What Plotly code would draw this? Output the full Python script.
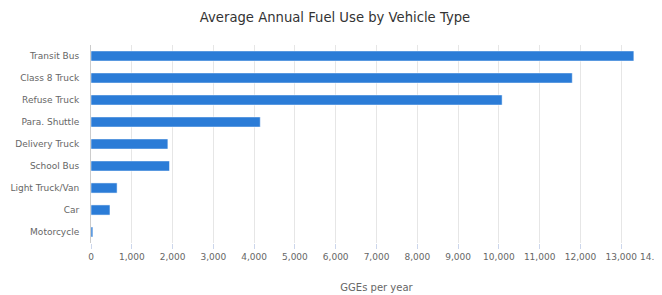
import plotly.graph_objects as go

categories = ["Transit Bus", "Class 8 Truck", "Refuse Truck", "Para. Shuttle",
              "Delivery Truck", "School Bus", "Light Truck/Van", "Car", "Motorcycle"]
values = [13310, 11800, 10080, 4150, 1885, 1925, 640, 465, 45]
tick_vals = list(range(0, 13001, 1000))
tick_text = [f"{v:,}" for v in tick_vals]
last_tick_val = 14000
last_tick_text = "14.."

fig = go.Figure(go.Bar(
    x=values, y=categories, orientation="h",
    marker=dict(color="#2b7cd7", line=dict(color="#ffffff", width=0.5)),
    width=0.46,
))

# page body has an 8px default margin, so the figure is sized/offset to compensate
fig.update_layout(
    width=654, height=287,
    margin=dict(l=83, r=0, t=37, b=52, autoexpand=False),
    paper_bgcolor="white", plot_bgcolor="white",
    font=dict(family="DejaVu Sans", color="#666666", size=10),
    title=dict(text="Average Annual Fuel Use by Vehicle Type", x=0.5, xanchor="center",
               y=0.969, yanchor="middle", automargin=False,
               font=dict(size=13.2, color="#333333", family="DejaVu Sans")),
    showlegend=False,
    annotations=[dict(text=last_tick_text, x=last_tick_val, xref="x", xanchor="right",
                      xshift=-4, y=0, yref="paper", yanchor="top", yshift=-8,
                      showarrow=False, borderpad=0,
                      font=dict(size=9, color="#666666"))],
)
fig.update_xaxes(
    range=[0, 14000], tickvals=tick_vals, ticktext=tick_text,
    showgrid=True, gridcolor="#e6e6e6", gridwidth=1, zeroline=False,
    ticks="outside", ticklen=5, tickcolor="#ccd6eb", automargin=False,
    tickfont=dict(size=9, color="#666666"),
    title=dict(text="GGEs per year", font=dict(size=10, color="#666666"), standoff=23),
)
fig.update_yaxes(
    categoryorder="array", categoryarray=categories[::-1],
    showline=True, linecolor="#cccccc", linewidth=1, automargin=False,
    showgrid=False, ticks="", ticklabelstandoff=9,
    tickfont=dict(size=9, color="#666666"),
)
fig.write_html("out.html")
